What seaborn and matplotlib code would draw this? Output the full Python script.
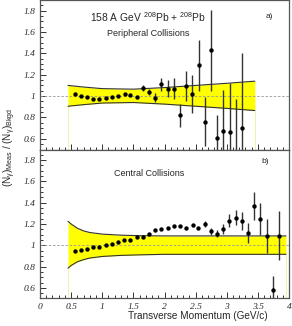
import numpy as np
import matplotlib
matplotlib.use("Agg")
import matplotlib.pyplot as plt
import seaborn as sns
from matplotlib.ticker import MultipleLocator, FormatStrFormatter

# peripheral collisions (panel a)
pt_a = [0.56, 0.66, 0.76, 0.85, 0.95, 1.06, 1.15, 1.25, 1.36, 1.45, 1.55, 1.65, 1.75, 1.85,
        1.95, 2.05, 2.15, 2.25, 2.35, 2.44, 2.55, 2.65, 2.75, 2.84, 2.94, 3.05, 3.15, 3.24]
ratio_a = [1.02, 1.00, 0.99, 0.975, 0.97, 0.985, 0.995, 1.00, 1.02, 1.01, 0.995, 1.077, 1.037, 0.985,
           1.11, 1.07, 1.07, 0.82, 1.093, 1.02, 1.29, 0.76, 1.43, 0.61, 0.67, 0.66, 0.45, 0.705]
err_a = [0.0, 0.0, 0.0, 0.0, 0.0, 0.0, 0.0, 0.0, 0.0, 0.0, 0.0, 0.03, 0.03, 0.04,
         0.06, 0.08, 0.10, 0.11, 0.14, 0.18, 0.24, 0.23, 0.38, 0.21, 0.39, 0.46, 0.52, 0.70]
band_x_a = [0.45, 0.7, 1.0, 1.5, 2.0, 2.5, 3.0, 3.45]
band_hi_a = [1.10, 1.085, 1.07, 1.065, 1.08, 1.10, 1.12, 1.14]
band_lo_a = [0.905, 0.92, 0.935, 0.94, 0.925, 0.905, 0.885, 0.865]

# central collisions (panel b)
pt_b = [0.555, 0.656, 0.757, 0.853, 0.955, 1.056, 1.152, 1.25, 1.355, 1.45, 1.55, 1.65, 1.75, 1.85,
        1.95, 2.05, 2.15, 2.25, 2.35, 2.45, 2.54, 2.645, 2.75, 2.84, 2.94, 3.04, 3.14, 3.24,
        3.34, 3.44, 3.54, 3.64, 3.74, 3.84]
ratio_b = [0.947, 0.96, 0.966, 0.98, 0.985, 1.004, 1.01, 1.03, 1.045, 1.05, 1.075, 1.08, 1.107, 1.14,
           1.154, 1.16, 1.185, 1.18, 1.163, 1.19, 1.166, 1.20, 1.13, 1.11, 1.157, 1.23, 1.26, 1.225,
           1.116, 1.37, 1.25, 1.09, 0.58, 1.09]
err_b = [0.0, 0.0, 0.0, 0.0, 0.0, 0.0, 0.0, 0.0, 0.0, 0.0, 0.0, 0.0, 0.0, 0.0,
         0.0, 0.0, 0.0, 0.0, 0.0, 0.0, 0.01, 0.03, 0.03, 0.03, 0.047, 0.06, 0.067, 0.086,
         0.094, 0.128, 0.15, 0.16, 0.128, 0.23]
band_x_b = [0.45, 0.5, 0.6, 0.7, 0.8, 1.0, 1.3, 1.6, 2.0, 3.0, 3.95]
band_hi_b = [1.225, 1.20, 1.16, 1.135, 1.12, 1.105, 1.095, 1.09, 1.088, 1.088, 1.088]
band_lo_b = [0.785, 0.81, 0.845, 0.865, 0.88, 0.895, 0.905, 0.91, 0.915, 0.915, 0.915]

sns.set_style("ticks")
plt.rcParams["font.family"] = ["Liberation Sans", "DejaVu Sans"]
plt.rcParams["mathtext.fontset"] = "custom"
plt.rcParams["mathtext.rm"] = "Liberation Sans"
plt.rcParams["mathtext.it"] = "Liberation Sans"

fig = plt.figure(figsize=(2.92, 3.26), dpi=100)
ax1 = fig.add_axes([0.137, 0.5414, 0.853, 0.4586])
ax2 = fig.add_axes([0.137, 0.0844, 0.853, 0.457])


def draw_panel(ax, x, y, err, bx, bhi, blo, show_xlabels):
    ax.fill_between(bx, blo, bhi, color="#ffff00", lw=0, zorder=1)
    ax.plot(bx, bhi, color="#333333", lw=0.8, zorder=2)
    ax.plot(bx, blo, color="#333333", lw=0.8, zorder=2)
    for xe in (bx[0], bx[-1]):
        ax.plot([xe, xe], [0.5, blo[bx.index(xe)]], color="#f0f0a0", lw=0.6, zorder=1)
    ax.axhline(1.0, color="#999999", lw=0.6, ls=(0, (3, 2)), zorder=2)
    ax.errorbar(x, y, yerr=err, fmt="none", ecolor="#333333", elinewidth=1.0, zorder=3)
    sns.scatterplot(x=x, y=y, ax=ax, color="black", s=10, linewidth=0, zorder=4)
    ax.set_xlim(0, 4)
    ax.set_ylim(0.5, 1.9)
    ax.xaxis.set_major_locator(MultipleLocator(0.5))
    ax.xaxis.set_minor_locator(MultipleLocator(0.1))
    ax.yaxis.set_minor_locator(MultipleLocator(0.05))
    ax.set_yticks([0.6, 0.8, 1.0, 1.2, 1.4, 1.6, 1.8])
    ax.yaxis.set_major_formatter(FormatStrFormatter("%g"))
    ax.xaxis.set_major_formatter(FormatStrFormatter("%g"))
    ax.tick_params(which="both", direction="in", color="#333333", width=0.7,
                   labelsize=6.8, pad=3, top=False, right=False)
    ax.tick_params(which="major", length=4)
    ax.tick_params(which="minor", length=2)
    ax.tick_params(axis="x", labelbottom=show_xlabels)
    for lab in ax.get_xticklabels() + ax.get_yticklabels():
        lab.set_family("Liberation Serif")
        lab.set_style("italic")
    for s in ax.spines.values():
        s.set_visible(True)
        s.set_color("#555555")
        s.set_linewidth(0.9)


draw_panel(ax1, pt_a, ratio_a, err_a, band_x_a, band_hi_a, band_lo_a, False)
draw_panel(ax2, pt_b, ratio_b, err_b, band_x_b, band_hi_b, band_lo_b, True)

ax1.text(1.73, 1.744, r"158 A GeV $^{208}$Pb + $^{208}$Pb", ha="center", va="center", fontsize=7.4)
ax1.text(1.73, 1.586, "Peripheral Collisions", ha="center", va="center", fontsize=6.5)
ax1.text(3.68, 1.744, "a)", ha="center", va="center", fontsize=6)
ax2.text(1.75, 1.673, "Central Collisions", ha="center", va="center", fontsize=6.5)
ax2.text(3.62, 1.786, "b)", ha="center", va="center", fontsize=6)

fig.text(268 / 292, 1 - 316 / 326, "Transverse Momentum (GeV/c)", ha="right", va="center", fontsize=7.2)
fig.text(10 / 292, 1 - 147 / 326,
         r"$(\mathrm{N}_{\gamma})_{\mathrm{Meas}}$ / $(\mathrm{N}_{\gamma})_{\mathrm{Bkgd}}$",
         ha="center", va="center", rotation=90, fontsize=7.2)

fig.savefig("out.png", dpi=100)
